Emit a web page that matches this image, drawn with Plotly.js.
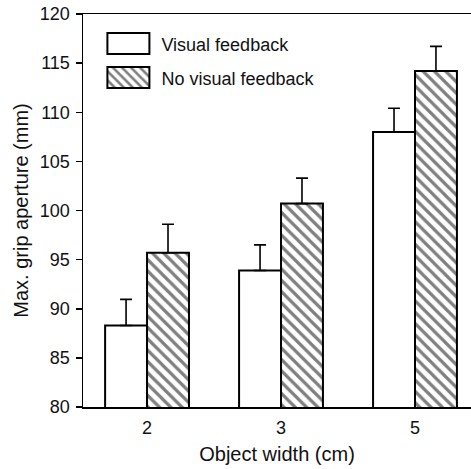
<!DOCTYPE html>
<html>
<head>
<meta charset="utf-8">
<script src="https://cdn.plot.ly/plotly-3.0.1.min.js"></script>
<style>html,body{margin:0;padding:0;background:#fff;}#chart{width:471px;height:469px;}</style>
</head>
<body>
<div id="chart"></div>
<script>
var categories = ['2', '3', '5'];
var seriesNames = ['Visual feedback', 'No visual feedback'];
var visualFeedback = [88.3, 93.9, 108.0];
var visualFeedbackErr = [2.65, 2.6, 2.4];
var noVisualFeedback = [95.7, 100.7, 114.2];
var noVisualFeedbackErr = [2.9, 2.6, 2.5];
var yTickVals = [80, 85, 90, 95, 100, 105, 110, 115, 120];

var fam = '"Liberation Sans", Arial, Helvetica, sans-serif';
var tickFont = {family: fam, size: 18, color: '#111'};
var titleFont = {family: fam, size: 20, color: '#111'};
var legendFont = {family: fam, size: 18, color: '#111'};

var traces = [
  {
    type: 'bar', name: seriesNames[0], x: categories, y: visualFeedback,
    marker: {color: '#ffffff', line: {color: '#000', width: 2}},
    error_y: {type: 'data', symmetric: false, array: visualFeedbackErr, arrayminus: [0, 0, 0], color: '#000', thickness: 1.6, width: 6}
  },
  {
    type: 'bar', name: seriesNames[1], x: categories, y: noVisualFeedback,
    marker: {color: '#ffffff', line: {color: '#000', width: 2},
      pattern: {shape: '\\', size: 8, solidity: 0.4, fgcolor: '#000', bgcolor: '#fff', fillmode: 'overlay'}},
    error_y: {type: 'data', symmetric: false, array: noVisualFeedbackErr, arrayminus: [0, 0, 0], color: '#000', thickness: 1.6, width: 6}
  }
];

var layout = {
  width: 471, height: 469,
  margin: {l: 83, r: 0, t: 14, b: 62, pad: 0},
  paper_bgcolor: '#fff', plot_bgcolor: '#fff',
  font: tickFont,
  barmode: 'group', bargap: 0.374, bargroupgap: 0,
  showlegend: true,
  legend: {x: 0.05, y: 0.971, xanchor: 'left', yanchor: 'top', bgcolor: 'rgba(0,0,0,0)', font: legendFont, tracegroupgap: 0, itemwidth: 49},
  xaxis: {
    type: 'category', range: [-0.478, 2.418], showline: true, linecolor: '#000', linewidth: 1.5, mirror: true,
    ticks: '', showgrid: false, zeroline: false, tickfont: tickFont, ticklabelstandoff: 4,
    title: {text: 'Object width (cm)', font: titleFont, standoff: 10}
  },
  yaxis: {
    range: [80, 120], tickvals: yTickVals, showline: true, linecolor: '#000', linewidth: 1.5,
    ticks: 'outside', ticklen: 6, tickwidth: 1.5, tickcolor: '#000', showgrid: false, zeroline: false,
    tickfont: tickFont, ticklabelstandoff: 2, title: {text: 'Max. grip aperture (mm)', font: titleFont, standoff: 6}
  }
};

Plotly.newPlot('chart', traces, layout, {staticPlot: true, displayModeBar: false}).then(function () {
  document.querySelectorAll('.legend [clip-path]').forEach(function (e) { e.removeAttribute('clip-path'); });
  var items = document.querySelectorAll('.legend .traces');
  items.forEach(function (it, i) {
    var tf = it.getAttribute('transform') || '';
    var m = tf.match(/translate\(\s*([-\d.]+)[ ,]+([-\d.]+)\s*\)/);
    if (m) it.setAttribute('transform', 'translate(' + m[1] + ',' + (parseFloat(m[2]) + i * 7.5) + ')');
    var p = it.querySelector('.legendpoints path');
    var t = it.querySelector('text.legendtext');
    if (!p || !t) return;
    var pr = p.getBoundingClientRect();
    var tr = t.getBoundingClientRect();
    var cx = pr.left + pr.width / 2;
    var right = tr.left - 12 - cx;
    var left = right - 42;
    p.setAttribute('d', 'M' + right + ',10.5H' + left + 'V-10.5H' + right + 'Z');
    p.style.strokeWidth = '2px';
  });
});
</script>
</body>
</html>
